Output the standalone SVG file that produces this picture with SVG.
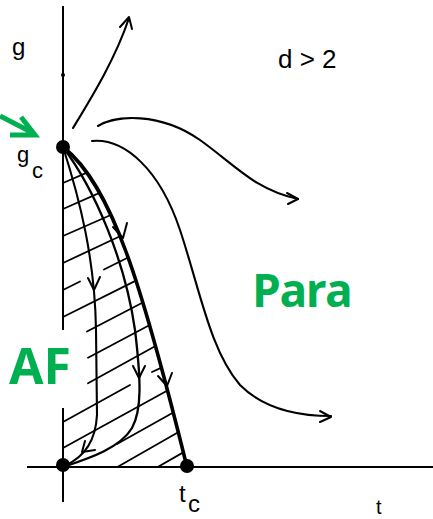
<svg xmlns="http://www.w3.org/2000/svg" width="433" height="519" viewBox="0 0 433 519">
<style>
.ax{stroke:#000;stroke-width:2;fill:none}
.fl{stroke:#000;stroke-width:2.1;fill:none;stroke-linecap:round}
.thick{stroke:#000;stroke-width:3.6;fill:none;stroke-linecap:round}
.hatch{stroke:#000;stroke-width:1.8;fill:none;stroke-linecap:round}
.ah{stroke:#000;stroke-width:2;fill:none;stroke-linecap:round;stroke-linejoin:round}
.lbl{font-family:"Liberation Sans",Arial,sans-serif;fill:#000}
.green{font-family:"Open Sans","Noto Sans",sans-serif;font-weight:bold;fill:#00b050}
</style>
<rect width="433" height="519" fill="#fff"/>
<g id="axes">
<line class="ax" x1="63" y1="6" x2="63" y2="330"/>
<line class="ax" x1="63" y1="408" x2="63" y2="502"/>
<line class="ax" x1="27" y1="467" x2="433" y2="467"/>
<circle cx="63" cy="75" r="2" fill="#000"/>
</g>
<g id="hatching">
<line class="hatch" x1="63" y1="183" x2="87" y2="172.6"/>
<line class="hatch" x1="63" y1="209" x2="99.6" y2="192.9"/>
<line class="hatch" x1="63" y1="236" x2="110.8" y2="215"/>
<line class="hatch" x1="63" y1="263" x2="120" y2="236.3"/>
<line class="hatch" x1="63" y1="290" x2="80" y2="281.5"/>
<line class="hatch" x1="104" y1="269.5" x2="128" y2="257.5"/>
<line class="hatch" x1="63" y1="317" x2="135.9" y2="280.6"/>
<line class="hatch" x1="87" y1="331.5" x2="142.8" y2="302.5"/>
<line class="hatch" x1="88" y1="357.7" x2="149.7" y2="325"/>
<line class="hatch" x1="88" y1="383.3" x2="155.5" y2="346"/>
<line class="hatch" x1="63" y1="422" x2="130" y2="385"/>
<line class="hatch" x1="152" y1="372" x2="161.5" y2="367.6"/>
<line class="hatch" x1="63" y1="448" x2="167.5" y2="390.5"/>
<line class="hatch" x1="117" y1="444" x2="173.3" y2="412.5"/>
<line class="hatch" x1="117.4" y1="467" x2="178.2" y2="432.3"/>
<line class="hatch" x1="157.7" y1="467" x2="183.3" y2="452.4"/>
</g>
<g id="connectors">
<path class="thick" d="M63,147 C112,185 142,285 187,467"/>
<polyline class="ah" points="113,227 123,238 127,223"/>
<polyline class="ah" points="158,376 167,386 172,373"/>
<path class="fl" d="M63,147 C80,200 95,260 96,330 L97,415 Q95,452 66,465"/>
<polyline class="ah" points="88,278 94,290 100,277"/>
<polyline class="ah" points="85,441 82,452 95,450"/>
<path class="fl" d="M63,147 C95,190 125,260 135,330 C141,380 142,410 132,428 C120,448 90,458 66,466" style="stroke-width:2.3"/>
<polyline class="ah" points="133,366 139,378 145,366"/>
<path class="fl" d="M73,128 C90,100 115,60 129,18"/>
<polyline class="ah" points="120,27 129,17 132,29"/>
<path class="fl" d="M98,126 C115,115 160,112 200,140 C235,165 255,190 298,199"/>
<polyline class="ah" points="287,193 298,199 288,204"/>
<path class="fl" d="M92,141 C125,138 160,170 180,230 C200,290 210,350 240,385 C265,410 300,416 331,416"/>
<polyline class="ah" points="320,411 331,417 320,422"/>
<path d="M0,116 L33,133 M21,117 L35,135 L10,135" fill="none" stroke="#00b050" stroke-width="5" stroke-linejoin="miter"/>
</g>
<g id="node-gc">
<circle cx="63" cy="147" r="7" fill="#000"/>
<text class="lbl" x="17" y="162" font-size="22">g</text>
<text class="lbl" x="32" y="178" font-size="22">c</text>
</g>
<g id="node-origin">
<circle cx="63" cy="465" r="7" fill="#000"/>
</g>
<g id="node-tc">
<circle cx="187" cy="466" r="7" fill="#000"/>
<text class="lbl" x="179" y="502" font-size="24">t</text>
<text class="lbl" x="188" y="512" font-size="24">c</text>
</g>
<g id="labels">
<text class="lbl" x="12" y="55" font-size="24">g</text>
<text class="lbl" x="278" y="68" font-size="26">d &gt; 2</text>
<text class="lbl" x="376" y="514" font-size="20">t</text>
<text class="green" x="252" y="307" font-size="46" letter-spacing="-1.5">Para</text>
<text class="green" x="9" y="384" font-size="50">AF</text>
</g>
</svg>
